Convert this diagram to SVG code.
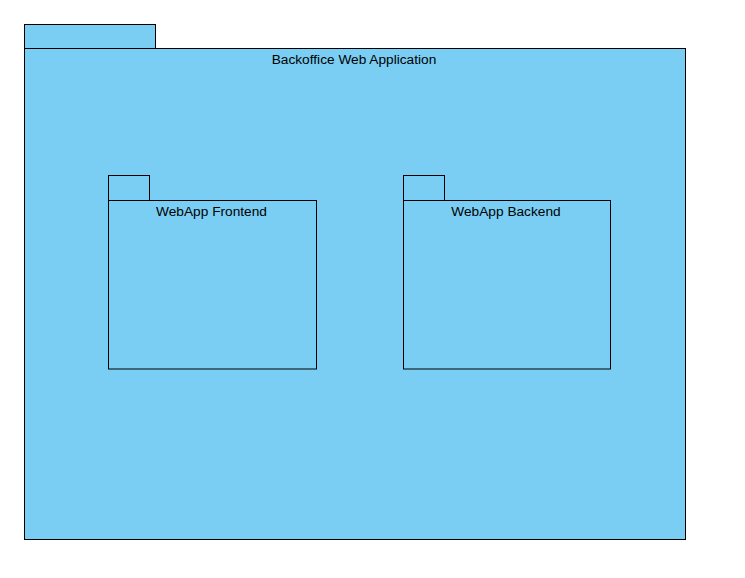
<svg xmlns="http://www.w3.org/2000/svg" width="745" height="578" viewBox="0 0 745 578">
<style>
.pkg{fill:#7ACEF4;stroke:#000;stroke-width:1}
.lbl{font-family:"Liberation Sans",Arial,sans-serif;font-size:13.7px;fill:#000;text-anchor:middle}
</style>
<rect width="745" height="578" fill="#fff"/>
<g id="backoffice">
<rect class="pkg" x="24.5" y="24.5" width="131" height="24"/>
<rect class="pkg" x="24.5" y="48.5" width="661" height="491"/>
<text class="lbl" x="354" y="64">Backoffice Web Application</text>
</g>
<g id="frontend">
<rect class="pkg" x="108.5" y="175.5" width="41" height="25"/>
<rect class="pkg" x="108.5" y="200.5" width="208" height="168.5"/>
<text class="lbl" x="211.5" y="216">WebApp Frontend</text>
</g>
<g id="backend">
<rect class="pkg" x="403.5" y="175.5" width="41" height="25"/>
<rect class="pkg" x="403.5" y="200.5" width="207" height="168.5"/>
<text class="lbl" x="506" y="216">WebApp Backend</text>
</g>
<g id="connectors"/>
</svg>
